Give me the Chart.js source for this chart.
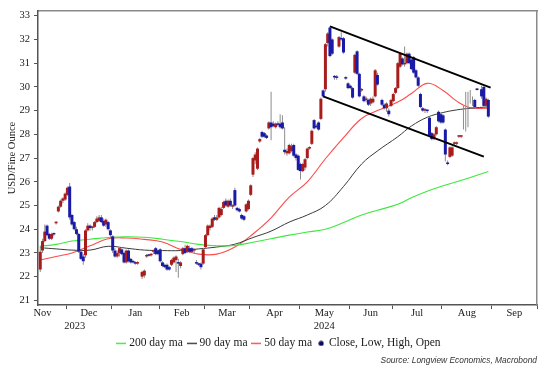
<!DOCTYPE html>
<html>
<head>
<meta charset="utf-8">
<script src="https://cdn.jsdelivr.net/npm/chart.js@4/dist/chart.umd.min.js"></script>
<style>
html,body{margin:0;padding:0;background:#fff;}
#wrap{width:560px;height:373px;}
</style>
</head>
<body>
<div id="wrap"><canvas id="c" width="560" height="373"></canvas></div>
<script>
// ---------------- DATA ----------------
const candleDates = [
'2023-11-14','2023-11-15','2023-11-16','2023-11-17','2023-11-20','2023-11-21','2023-11-22','2023-11-24','2023-11-27','2023-11-28','2023-11-29','2023-11-30',
'2023-12-01','2023-12-04','2023-12-05','2023-12-06','2023-12-07','2023-12-08','2023-12-11','2023-12-12','2023-12-13','2023-12-14','2023-12-15','2023-12-18','2023-12-19','2023-12-20','2023-12-21','2023-12-22','2023-12-26','2023-12-27','2023-12-28','2023-12-29',
'2024-01-02','2024-01-03','2024-01-04','2024-01-05','2024-01-08','2024-01-09','2024-01-10','2024-01-11','2024-01-12','2024-01-16','2024-01-17','2024-01-18','2024-01-22','2024-01-23','2024-01-24','2024-01-25','2024-01-26','2024-01-29','2024-01-30','2024-01-31',
'2024-02-01','2024-02-02','2024-02-05','2024-02-06','2024-02-07','2024-02-08','2024-02-09','2024-02-12','2024-02-13','2024-02-14','2024-02-15','2024-02-16','2024-02-20','2024-02-21','2024-02-22','2024-02-23','2024-02-26','2024-02-27','2024-02-28','2024-02-29',
'2024-03-01','2024-03-04','2024-03-05','2024-03-06','2024-03-07','2024-03-08','2024-03-11','2024-03-12','2024-03-13','2024-03-14','2024-03-15','2024-03-18','2024-03-19','2024-03-20','2024-03-21','2024-03-22','2024-03-25','2024-03-26','2024-03-27','2024-03-28',
'2024-04-01','2024-04-02','2024-04-03','2024-04-04','2024-04-05','2024-04-08','2024-04-09','2024-04-10','2024-04-11','2024-04-12','2024-04-15','2024-04-16','2024-04-17','2024-04-18','2024-04-19','2024-04-22','2024-04-23','2024-04-24','2024-04-25','2024-04-26','2024-04-29','2024-04-30',
'2024-05-01','2024-05-02','2024-05-03','2024-05-06','2024-05-07','2024-05-08','2024-05-09','2024-05-10','2024-05-13','2024-05-14','2024-05-15','2024-05-16','2024-05-17','2024-05-20','2024-05-21','2024-05-22','2024-05-23','2024-05-24','2024-05-28','2024-05-29','2024-05-30','2024-05-31',
'2024-06-03','2024-06-04','2024-06-05','2024-06-06','2024-06-07','2024-06-10','2024-06-11','2024-06-12','2024-06-13','2024-06-14','2024-06-17','2024-06-18','2024-06-20','2024-06-24','2024-06-25','2024-06-26','2024-06-27','2024-06-28',
'2024-07-01','2024-07-02','2024-07-03','2024-07-05','2024-07-08','2024-07-09','2024-07-10','2024-07-11','2024-07-12','2024-07-15','2024-07-16','2024-07-17','2024-07-18','2024-07-19','2024-07-22','2024-07-23','2024-07-24','2024-07-25','2024-07-26','2024-07-29','2024-07-30','2024-07-31',
'2024-08-01','2024-08-02','2024-08-05','2024-08-06','2024-08-07','2024-08-08','2024-08-09','2024-08-12','2024-08-13','2024-08-14','2024-08-15','2024-08-16','2024-08-19','2024-08-20','2024-08-21','2024-08-22','2024-08-26','2024-08-27','2024-08-28','2024-08-29'
];
const openPrices = [
22.3,23.1,23.5,24.15,23.8,23.6,23.8,24.25,24.75,24.95,25.2,25.25,
25.45,25.8,24.6,24.3,24.0,23.8,23.05,22.85,22.9,23.95,24.15,24.05,24.1,24.3,24.35,24.5,24.35,24.2,24.3,23.95,
23.7,23.1,22.85,23.0,23.15,23.0,22.6,23.1,22.75,22.65,22.6,22.55,22.0,22.05,22.85,22.9,22.9,23.05,23.2,23.1,
23.15,22.6,22.5,22.5,22.4,22.5,22.6,22.7,22.6,22.45,22.95,23.2,23.05,23.2,23.2,23.1,22.6,22.55,22.55,22.55,
23.25,23.75,24.05,24.1,24.5,24.4,24.5,24.6,24.9,25.2,24.95,25.2,24.95,25.65,24.9,24.85,24.6,24.55,24.75,24.85,
25.45,26.3,26.9,26.55,27.7,28.1,28.05,27.95,28.25,28.5,28.45,28.3,28.45,28.45,28.5,27.35,27.2,27.2,27.3,27.55,27.15,27.1,
26.75,26.45,26.6,27.0,27.4,27.6,28.6,28.35,28.5,28.65,29.85,29.9,31.85,32.5,32.0,30.45,30.4,31.7,32.05,32.05,30.4,30.15,
30.05,29.95,30.6,31.5,30.55,29.85,29.6,29.45,29.45,29.3,29.35,29.6,30.5,29.45,29.25,29.1,29.0,29.2,
29.4,29.75,29.95,30.85,31.2,30.95,31.0,31.4,31.15,31.25,30.7,30.4,29.7,29.1,29.0,29.0,28.7,28.05,27.8,28.0,28.95,28.85,
28.8,28.2,26.8,27.05,27.1,27.6,27.6,27.9,27.9,null,null,null,null,null,29.45,29.9,29.9,30.0,29.2,29.45
];
const highPrices = [
23.3,23.6,24.2,24.2,23.85,23.85,23.85,24.35,25.0,25.25,25.35,25.55,
25.8,25.95,24.65,24.35,24.1,23.85,23.1,22.95,24.0,24.25,24.2,24.15,24.35,24.55,24.6,24.6,24.45,24.45,24.35,24.0,
23.75,23.2,23.1,23.25,23.2,23.05,23.15,23.15,22.8,22.7,22.65,22.65,22.25,22.3,22.95,22.95,23.0,23.15,23.25,23.15,
23.2,22.65,22.55,22.55,22.45,22.75,22.85,22.9,22.75,22.65,23.25,23.35,23.35,23.3,23.25,23.2,22.7,22.6,22.6,23.2,
23.8,24.2,24.2,24.5,24.6,24.6,24.95,24.95,25.2,25.3,25.25,25.3,25.05,25.75,24.95,24.9,24.65,24.6,25.1,25.25,
25.9,27.05,27.25,27.45,27.85,28.15,28.1,28.0,28.55,29.8,28.55,28.5,28.55,28.85,28.8,28.3,27.4,27.6,27.6,27.6,27.2,27.15,
26.8,26.8,27.0,27.45,27.5,28.2,28.65,28.45,28.55,29.55,29.9,31.85,32.3,32.55,32.05,30.5,30.5,32.15,32.3,32.1,30.45,30.2,
30.1,30.0,31.4,31.55,30.6,29.95,29.65,29.6,29.5,29.55,29.6,30.75,30.6,29.5,29.3,29.35,29.1,29.5,
29.75,30.0,31.05,31.45,31.25,31.7,31.45,31.45,31.2,31.3,30.75,30.45,29.75,29.15,29.1,29.05,28.75,28.1,28.05,28.35,29.0,28.9,
28.85,28.25,26.9,27.5,27.5,27.7,27.7,27.95,27.95,29.2,29.8,29.8,29.87,29.6,29.5,29.95,30.05,30.05,29.55,29.5
];
const lowPrices = [
22.2,23.0,23.45,23.7,23.55,23.55,23.7,24.2,24.7,24.9,25.1,25.2,
25.4,24.4,24.15,23.95,23.75,23.0,22.7,22.5,22.8,23.9,23.95,23.95,24.05,24.25,24.3,24.25,24.1,24.1,23.95,23.6,
23.0,22.8,22.8,22.85,22.9,22.55,22.55,22.6,22.55,22.55,22.5,22.5,21.9,21.95,22.8,22.85,22.85,22.95,22.9,22.9,
22.6,22.4,22.35,22.25,22.25,22.45,22.55,22.2,21.95,22.35,22.9,22.95,23.0,23.0,23.0,23.0,22.5,22.45,22.3,22.5,
23.2,23.7,23.95,24.05,24.35,24.35,24.45,24.55,24.85,24.95,24.9,24.95,24.85,24.95,24.75,24.7,24.4,24.35,24.7,24.8,
25.4,26.2,26.75,26.5,27.65,27.85,27.85,27.8,28.2,27.75,28.3,28.25,28.35,28.25,28.2,27.15,27.1,27.15,27.25,27.05,26.9,26.45,
26.1,26.4,26.5,26.95,27.35,27.55,28.2,28.25,28.15,28.6,29.55,29.8,31.7,31.25,31.35,30.3,30.3,31.65,31.95,31.4,30.3,29.9,
29.9,29.5,30.55,30.5,29.55,29.8,29.35,29.35,29.2,29.2,29.3,29.55,30.05,29.2,29.05,28.95,28.75,29.15,
29.35,29.7,29.9,30.8,30.9,30.85,30.95,30.95,30.7,30.55,30.35,30.0,29.1,28.95,28.9,28.9,27.9,27.75,27.75,27.95,28.5,28.45,
28.45,26.85,26.7,27.0,27.05,27.55,27.55,27.85,27.85,28.2,28.12,28.3,29.3,29.2,29.1,29.85,29.5,29.15,29.1,28.7
];
const closePrices = [
23.05,23.5,23.9,23.75,23.6,23.8,23.78,24.3,24.95,25.2,25.3,25.5,
25.75,24.5,24.2,24.0,23.8,23.05,22.75,22.65,23.95,24.15,24.05,24.1,24.3,24.45,24.5,24.3,24.15,24.4,24.0,23.75,
23.1,22.85,23.0,23.2,22.95,22.6,23.1,22.65,22.6,22.6,22.55,22.6,22.2,22.25,22.9,22.88,22.95,23.1,22.95,22.95,
22.65,22.45,22.4,22.3,22.3,22.7,22.8,22.85,22.55,22.6,23.2,23.0,23.3,23.05,23.05,23.12,22.55,22.5,22.4,23.15,
23.75,24.15,24.15,24.45,24.4,24.5,24.9,24.85,25.15,25.0,25.2,25.0,25.0,25.0,24.8,24.75,24.45,24.4,25.05,25.2,
25.85,27.0,27.15,27.4,27.8,27.9,27.9,27.85,28.5,28.3,28.35,28.45,28.4,28.3,28.25,27.25,27.3,27.55,27.5,27.1,27.0,26.5,
26.45,26.75,26.95,27.4,27.42,28.15,28.25,28.3,28.2,29.5,29.6,31.8,32.25,31.3,31.4,30.4,30.38,32.1,32.0,31.45,30.35,29.95,
29.95,29.55,31.35,30.55,29.6,29.88,29.4,29.5,29.25,29.5,29.5,30.7,30.1,29.25,29.1,29.3,28.85,29.45,
29.7,29.95,31.0,31.4,30.95,31.0,31.4,31.0,30.75,30.6,30.4,30.05,29.15,29.0,29.02,28.98,27.95,27.8,28.0,28.3,28.55,28.5,
28.5,27.15,26.75,27.45,27.45,27.63,27.65,27.92,27.9,null,null,null,null,null,29.15,29.87,29.6,29.2,29.5,28.75
];

// moving averages at sample dates
const maDates = ['2023-11-14','2023-11-24','2023-12-05','2023-12-15','2023-12-28','2024-01-10','2024-01-23','2024-02-02','2024-02-14','2024-02-27','2024-03-08','2024-03-20','2024-04-02','2024-04-12','2024-04-24','2024-05-06','2024-05-16','2024-05-29','2024-06-10','2024-06-20','2024-07-03','2024-07-12','2024-07-23','2024-08-01','2024-08-09','2024-08-19','2024-08-29'];
const ma200 = [23.28,23.36,23.5,23.58,23.65,23.68,23.66,23.58,23.48,23.36,23.3,23.32,23.45,23.6,23.75,23.88,24.0,24.28,24.6,24.8,25.05,25.33,25.6,25.83,26.0,26.18,26.43];
const ma90  = [23.22,23.17,23.12,23.12,23.28,23.2,23.12,23.1,23.1,23.17,23.25,23.37,23.65,23.92,24.3,24.6,25.0,25.8,26.75,27.3,27.9,28.35,28.72,28.92,29.03,29.1,29.16];
const ma50  = [22.7,22.85,23.0,23.3,23.6,23.63,23.57,23.46,23.15,22.95,22.95,23.25,23.8,24.48,25.35,26.0,26.97,27.86,28.67,29.0,29.36,29.72,30.15,29.85,29.4,29.12,29.1];

// channel lines
const trendUpperDates = ['2024-05-20','2024-08-30'];
const trendUpperValues = [32.55, 29.97];
const trendLowerDates = ['2024-05-15','2024-08-27'];
const trendLowerValues = [29.6, 27.06];

// axis labels
const monthLabels = ['Nov','Dec','Jan','Feb','Mar','Apr','May','Jun','Jul','Aug','Sep'];
const monthStarts = ['2023-11-01','2023-12-01','2024-01-01','2024-02-01','2024-03-01','2024-04-01','2024-05-01','2024-06-01','2024-07-01','2024-08-01','2024-09-01','2024-10-01'];
const yearLabels = ['2023','2024'];
const yearStarts = ['2023-01-01','2024-01-01','2025-01-01'];
const yTicks = [21,22,23,24,25,26,27,28,29,30,31,32,33];
const holidays = ['2023-11-23','2023-12-25','2024-01-01','2024-01-15','2024-02-19','2024-03-29','2024-05-27','2024-06-19','2024-07-04','2024-09-02'];
const axisStart = '2023-11-13';
const axisEnd = '2024-10-01';

// ---------------- trading-day axis ----------------
const cal = [];
for (let t = Date.UTC(2023,10,1); t <= Date.UTC(2024,11,31); t += 86400000) {
  const d = new Date(t); const wd = d.getUTCDay(); const s = d.toISOString().slice(0,10);
  if (wd !== 0 && wd !== 6 && !holidays.includes(s)) cal.push(s);
}
function tIdx(s){ const i = cal.findIndex(c => c >= s); return i < 0 ? cal.length : i; }

const X_MIN = tIdx(axisStart);
const X_MAX = tIdx(axisEnd) - 0.5;
const monthBounds = monthStarts.map(s => tIdx(s) - 0.5);
const monthCenters = monthLabels.map((_, i) => (monthBounds[i] + monthBounds[i+1]) / 2);
const yearBounds = yearStarts.map(s => tIdx(s) - 0.5);
const yearCenters = yearLabels.map((_, i) => (Math.max(X_MIN, yearBounds[i]) + Math.min(X_MAX, yearBounds[i+1])) / 2);

const RED = '#a81c1c', BLUE = '#1a1aa8', WICK = '#8c8c8c';
const SERIF = "'Liberation Serif','Times New Roman',serif";

const wickData = candleDates.map((d, i) => ({x: tIdx(d), y: [lowPrices[i], highPrices[i]]}));
const bodyData = candleDates.map((d, i) => ({x: tIdx(d), y: [openPrices[i], closePrices[i]]})).filter(p => p.y[0] !== null);
const toPts = (dates, vals) => dates.map((d, i) => ({x: tIdx(d), y: vals[i]}));

function lineSwatch(color){
  const c = document.createElement('canvas'); c.width = 10; c.height = 3;
  const g = c.getContext('2d'); g.fillStyle = color; g.fillRect(0, 0.8, 10, 1.4); return c;
}
function dotSwatch(color){
  const c = document.createElement('canvas'); c.width = 6; c.height = 6;
  const g = c.getContext('2d'); g.fillStyle = color; g.beginPath(); g.arc(3, 3, 2.6, 0, Math.PI*2); g.fill(); return c;
}
const legendItems = [
  {text:'200 day ma', pointStyle: lineSwatch('#3ee83e')},
  {text:'90 day ma', pointStyle: lineSwatch('#3a3a3a')},
  {text:'50 day ma', pointStyle: lineSwatch('#ff4a4a')},
  {text:'Close, Low, High, Open', pointStyle: dotSwatch('#0c0c5a')}
].map((it, i) => Object.assign({fillStyle:'#000', strokeStyle:'#000', lineWidth:0, hidden:false, datasetIndex:i, fontColor:'#1a1a1a'}, it));

const hiddenAxis = (pos, size, extra) => Object.assign({
  type:'linear', position: pos, display: true, offset:false,
  ticks:{display:false}, grid:{display:false, drawTicks:false},
  border:{display:true, color:'#8a8a8a', width:1.5},
  afterFit: s => { if (pos === 'top') s.height = size; else s.width = size; }
}, extra || {});

new Chart(document.getElementById('c'), {
  type: 'bar',
  data: {
    datasets: [
      {type:'line', label:'upper', data: toPts(trendUpperDates, trendUpperValues), borderColor:'#000', borderWidth:2, pointRadius:0, order:0, xAxisID:'x', yAxisID:'y'},
      {type:'line', label:'lower', data: toPts(trendLowerDates, trendLowerValues), borderColor:'#000', borderWidth:2, pointRadius:0, order:0, xAxisID:'x', yAxisID:'y'},
      {type:'bar', label:'Close, Low, High, Open', data: bodyData, grouped:false, barThickness:3, minBarLength:1.5, inflateAmount:0, borderWidth:0,
        backgroundColor: ctx => { const r = ctx.raw; return (r && r.y[1] >= r.y[0]) ? RED : BLUE; }, order:1, xAxisID:'x', yAxisID:'y'},
      {type:'bar', label:'wick', data: wickData, grouped:false, barThickness:1, inflateAmount:0, borderWidth:0, backgroundColor: WICK, order:2, xAxisID:'x', yAxisID:'y'},
      {type:'line', label:'200 day ma', data: toPts(maDates, ma200), borderColor:'#3ee83e', borderWidth:1.1, pointRadius:0, tension:0.4, order:3, xAxisID:'x', yAxisID:'y'},
      {type:'line', label:'90 day ma', data: toPts(maDates, ma90), borderColor:'#3a3a3a', borderWidth:1, pointRadius:0, tension:0.4, order:3, xAxisID:'x', yAxisID:'y'},
      {type:'line', label:'50 day ma', data: toPts(maDates, ma50), borderColor:'#ff4a4a', borderWidth:1.1, pointRadius:0, tension:0.4, order:3, xAxisID:'x', yAxisID:'y'}
    ]
  },
  options: {
    responsive:false, devicePixelRatio:1, animation:false, events:[],
    layout:{padding:0},
    scales: {
      x: {
        type:'linear', position:'bottom', min:X_MIN, max:X_MAX, offset:false, weight:0,
        afterBuildTicks: s => { s.ticks = monthBounds.filter(v => v >= X_MIN && v <= X_MAX).map(v => ({value:v})); },
        afterFit: s => { s.height = 2; },
        ticks:{display:false},
        grid:{display:true, offset:false, drawOnChartArea:false, drawTicks:true, tickLength:4, color:'#555', lineWidth:1},
        border:{display:true, color:'#555', width:1.5}
      },
      xm: {
        type:'linear', axis:'x', position:'bottom', min:X_MIN, max:X_MAX, offset:false, weight:1,
        afterBuildTicks: s => { s.ticks = monthCenters.map(v => ({value:v})); },
        afterFit: s => { s.height = 13; },
        ticks:{autoSkip:false, maxRotation:0, minRotation:0, padding:0, color:'#1a1a1a', font:{family:SERIF, size:10.5},
          callback: (v, i) => monthLabels[i]},
        grid:{display:false, drawTicks:false, offset:false}, border:{display:false}
      },
      xy: {
        type:'linear', axis:'x', position:'bottom', min:X_MIN, max:X_MAX, offset:false, weight:2,
        afterBuildTicks: s => { s.ticks = yearCenters.map(v => ({value:v})); },
        afterFit: s => { s.height = 10.5; },
        ticks:{autoSkip:false, maxRotation:0, minRotation:0, padding:0, color:'#1a1a1a', font:{family:SERIF, size:10.5},
          callback: (v, i) => yearLabels[i]},
        grid:{display:false, drawTicks:false, offset:false}, border:{display:false}
      },
      xt: hiddenAxis('top', 11, {axis:'x'}),
      y: {
        type:'linear', position:'left', min:20.8, max:33.2,
        afterBuildTicks: s => { s.ticks = yTicks.map(v => ({value:v})); },
        afterFit: s => { s.width = 38; },
        ticks:{padding:4, color:'#1a1a1a', font:{family:SERIF, size:10.5}, callback: v => String(v)},
        grid:{display:true, drawOnChartArea:false, drawTicks:true, tickLength:4, color:'#555'},
        border:{display:true, color:'#555', width:1.5},
        title:{display:true, text:'USD/Fine Ounce', color:'#222', font:{family:SERIF, size:10.5}, padding:{top:6, bottom:0}}
      },
      yr: hiddenAxis('right', 23, {axis:'y'})
    },
    plugins: {
      tooltip:{enabled:false},
      legend:{
        display:true, position:'bottom', align:'center', fullSize:true,
        labels:{usePointStyle:true, boxWidth:4, boxHeight:10, padding:7, color:'#1a1a1a', font:{family:SERIF, size:11.5},
          generateLabels: () => legendItems}
      },
      subtitle:{
        display:true, text:'Source: Longview Economics, Macrobond', position:'bottom', align:'end', fullSize:false,
        color:'#333', font:{family:"'Liberation Sans',Arial,sans-serif", size:8.4, style:'italic', weight:'normal'},
        padding:{top:-3.1, bottom:6.9}
      }
    }
  }
});
</script>
</body>
</html>
